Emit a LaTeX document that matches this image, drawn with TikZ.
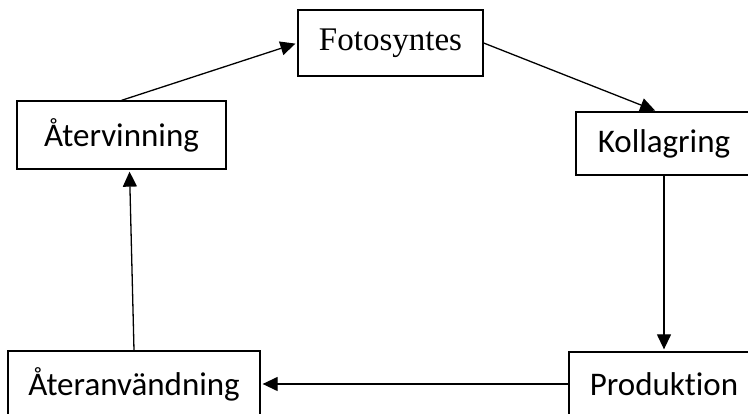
\documentclass[tikz,border=0pt]{standalone}
\usepackage{fontspec}
\setmainfont{Carlito}[RawFeature=-liga]
\newfontfamily\timesfont{Liberation Serif}
\usetikzlibrary{arrows.meta}

\begin{document}
\begin{tikzpicture}[x=1pt,y=-1pt,
  box/.style={draw,line width=1.3pt,inner sep=0pt,font=\fontsize{33}{40}\selectfont},
  arr/.style={-{Triangle[length=15pt,width=14pt]},line width=1.3pt,shorten >=2pt}]
\useasboundingbox (0,0) rectangle (748,414);

% boxes (the two on the right and the two at the bottom run off the page)
\node[box,font=\timesfont\fontsize{33}{40}\selectfont,minimum width=185pt,minimum height=66pt] (fotosyntes) at (390.5,43) {Fotosyntes};
\node[box,minimum width=209pt,minimum height=68pt] (atervinning) at (121.5,135) {Återvinning};
\node[box,minimum width=176pt,minimum height=63pt] (kollagring) at (664,143.5) {Kollagring};
\node[box,minimum width=190pt,minimum height=64pt] (produktion) at (664,384) {Produktion};
\node[box,minimum width=252pt,minimum height=66pt] (ateranvandning) at (134,384) {Återanvändning};

\draw[arr] (atervinning.north) -- (fotosyntes.west);
\draw[arr] (fotosyntes.east) -- ([xshift=-7pt]kollagring.north);
\draw[arr] (kollagring.south) -- (produktion.north);
\draw[arr] (produktion.west) -- (ateranvandning.east);
\draw[arr] (ateranvandning.north) -- ([xshift=8pt]atervinning.south);
\end{tikzpicture}
\end{document}
